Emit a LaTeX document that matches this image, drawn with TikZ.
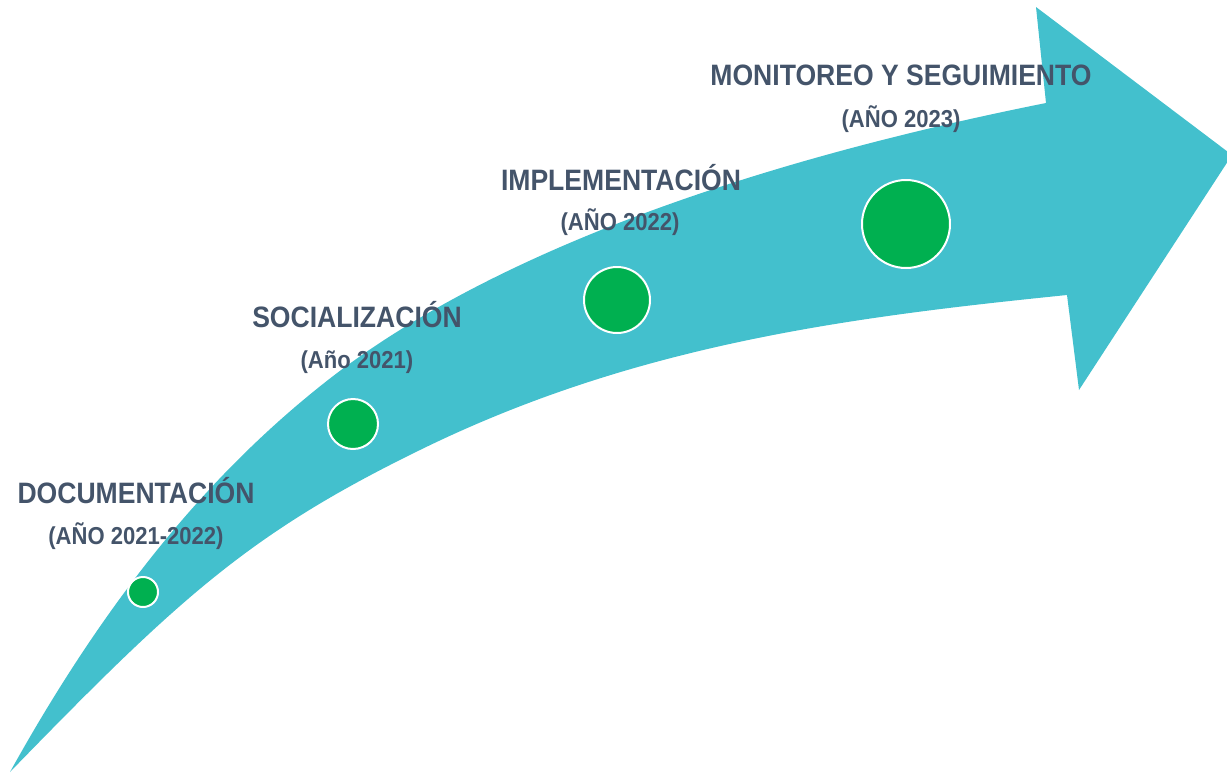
\documentclass[tikz,border=0pt]{standalone}
\usepackage{fontspec}
\setmainfont{Liberation Sans}[FakeStretch=0.9]
\definecolor{arrowteal}{HTML}{43C0CD}
\definecolor{dotgreen}{HTML}{00B050}
\definecolor{txt}{HTML}{44546A}
\begin{document}
\begin{tikzpicture}[x=1pt,y=-1pt,
  title/.style={anchor=base,text=txt,font=\bfseries\fontsize{29.5}{34}\selectfont,inner sep=0pt},
  year/.style={anchor=base,text=txt,font=\bfseries\fontsize{24.5}{28}\selectfont,inner sep=0pt},
  dot/.style={circle,fill=dotgreen,draw=white,line width=2pt,inner sep=0pt}]
\useasboundingbox (0,0) rectangle (1227,772);
\clip (0,0) rectangle (1227,772);
\fill[arrowteal] (10,772) .. controls (116,581) and (222,463) .. (328,380)
  .. controls (528,224) and (846,143) .. (1046,103)
  -- (1036,7) -- (1232,155) -- (1079,390) -- (1067,295)
  .. controls (851,317) and (636,344) .. (420,450)
  .. controls (250,533) and (180,597) .. (10,772) -- cycle;
\node[dot,minimum size=30pt] (d1) at (143,592) {};
\node[dot,minimum size=50pt] (d2) at (353,424) {};
\node[dot,minimum size=66pt] (d3) at (617,300) {};
\node[dot,minimum size=88pt] (d4) at (906,224) {};
\node[title] (t1) at (136,503) {DOCUMENTACIÓN};
\node[year] (y1) at (136,544) {(AÑO 2021-2022)};
\node[title] (t2) at (357,327) {SOCIALIZACIÓN};
\node[year] (y2) at (357,368) {(Año 2021)};
\node[title] (t3) at (621,190) {IMPLEMENTACIÓN};
\node[year] (y3) at (620,230) {(AÑO 2022)};
\node[title] (t4) at (901,85) {MONITOREO Y SEGUIMIENTO};
\node[year] (y4) at (901,127) {(AÑO 2023)};
\end{tikzpicture}
\end{document}
